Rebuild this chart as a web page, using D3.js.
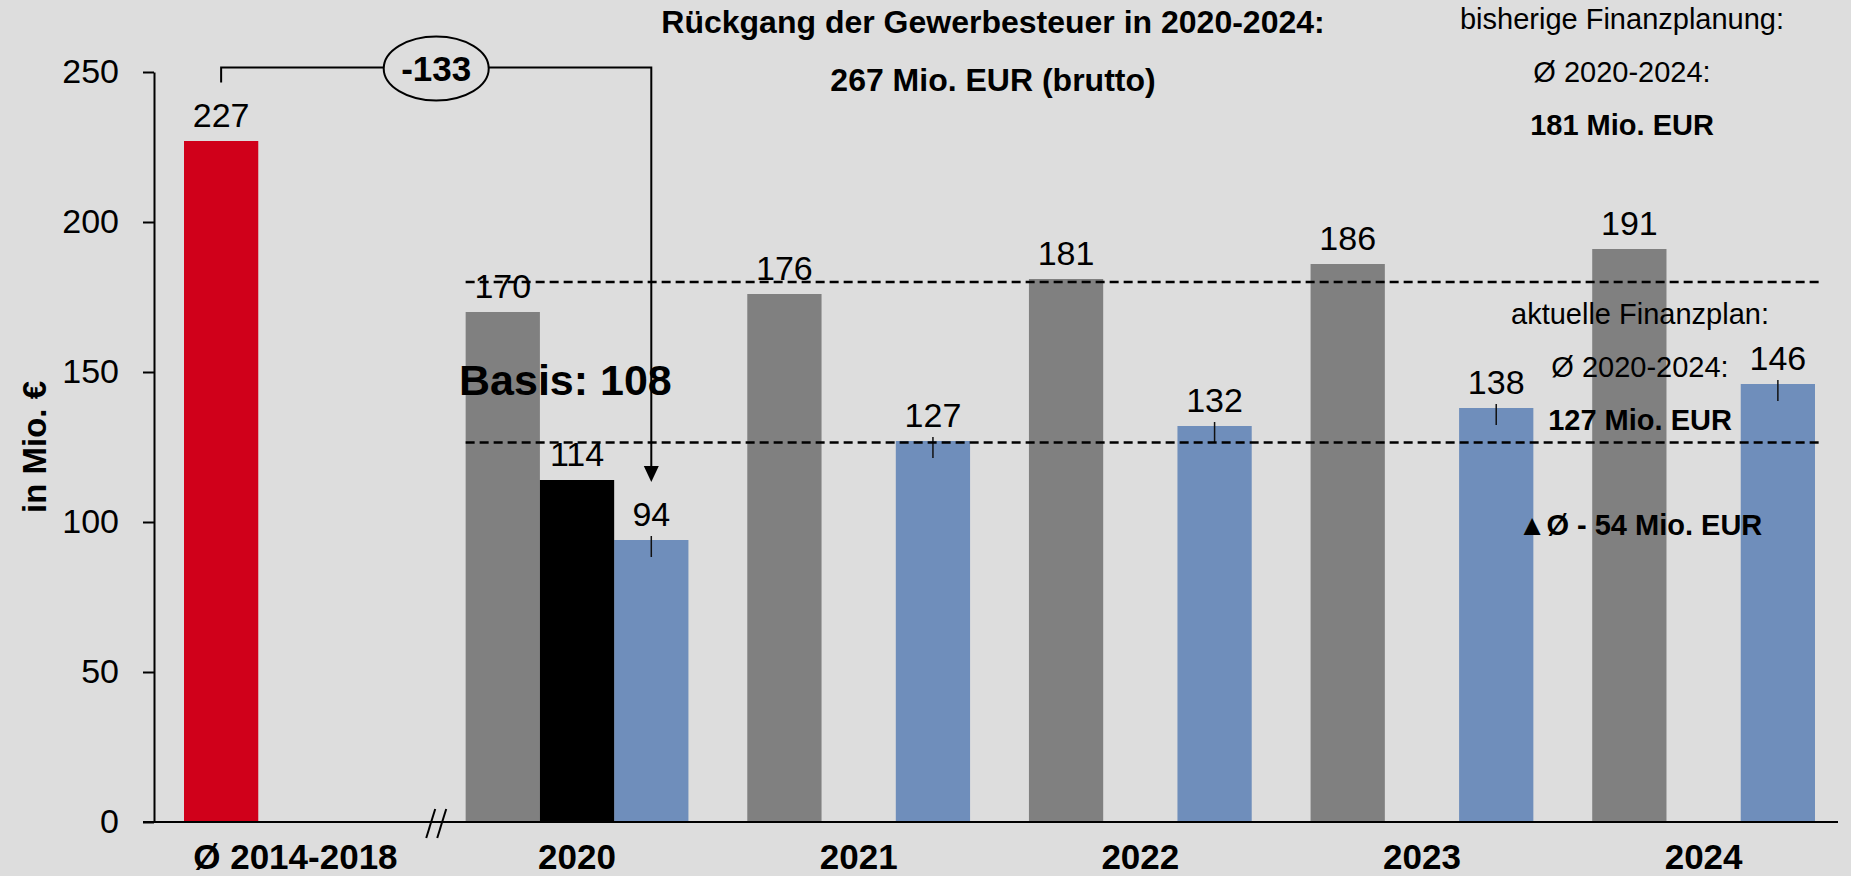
<!DOCTYPE html>
<meta charset="utf-8">
<style>

body {
  margin: 0;
  background: #dddddd;
}

text {
  font-family: "Liberation Sans", Arial, sans-serif;
  fill: #000;
}

.axis text {
  font-size: 34px;
}

.axis path,
.axis line {
  stroke: #000;
  stroke-width: 2px;
}

.label {
  font-size: 34px;
  text-anchor: middle;
}

.note {
  font-size: 29px;
  text-anchor: middle;
}

.bold {
  font-weight: bold;
}

</style>
<svg width="1851" height="876"></svg>
<script src="https://cdn.jsdelivr.net/npm/d3@7"></script>
<script>

var categories = ["Ø 2014-2018", "2020", "2021", "2022", "2023", "2024"],
    years = ["2020", "2021", "2022", "2023", "2024"];

var avgValue = [227],                          // Ø 2014-2018
    previousPlan = [170, 176, 181, 186, 191],  // bisherige Finanzplanung
    basis2020 = [114],                         // Basis 2020
    currentPlan = [94, 127, 132, 138, 146];    // aktuelle Finanzplanung

var yTicks = [0, 50, 100, 150, 200, 250];

// dashed average lines (old plan, current plan)
var avgLines = [180, 126.5];

var titleLines = ["Rückgang der Gewerbesteuer in 2020-2024:", "267 Mio. EUR (brutto)"],
    oldPlanLines = ["bisherige Finanzplanung:", "Ø 2020-2024:", "181 Mio. EUR"],
    newPlanLines = ["aktuelle Finanzplan:", "Ø 2020-2024:", "127 Mio. EUR"],
    diffLine = "▲Ø - 54 Mio. EUR",
    basisLine = "Basis: 108";

var svg = d3.select("svg"),
    width = +svg.attr("width"),
    height = +svg.attr("height");

svg.append("rect")
    .attr("width", width)
    .attr("height", height)
    .attr("fill", "#dddddd");

var axisX = 154;

var x0 = d3.scaleBand()
    .domain(categories)
    .range([184, 1815])
    .paddingInner(0.209)
    .paddingOuter(0);

var x1 = d3.scaleBand()
    .domain(["a", "b", "c"])
    .range([0, x0.bandwidth()]);

var y = d3.scaleLinear()
    .domain([0, 250])
    .range([822, 72]);

var colors = { avg: "#d0001a", old: "#808080", basis: "#000000", cur: "#6f8ebb" };

var bars = [];
bars.push({ cat: categories[0], slot: "a", value: avgValue[0], type: "avg" });
years.forEach(function(yr, i) {
  bars.push({ cat: yr, slot: "a", value: previousPlan[i], type: "old" });
  bars.push({ cat: yr, slot: "c", value: currentPlan[i], type: "cur" });
});
bars.push({ cat: years[0], slot: "b", value: basis2020[0], type: "basis" });

function cx(d) { return x0(d.cat) + x1(d.slot) + x1.bandwidth() / 2; }

svg.append("g")
  .selectAll("rect")
  .data(bars)
  .enter().append("rect")
    .attr("x", function(d) { return x0(d.cat) + x1(d.slot); })
    .attr("y", function(d) { return y(d.value); })
    .attr("width", x1.bandwidth())
    .attr("height", function(d) { return y(0) - y(d.value); })
    .attr("fill", function(d) { return colors[d.type]; });

// little markers on the current plan bars
svg.append("g")
  .selectAll("line")
  .data(bars.filter(function(d) { return d.type === "cur"; }))
  .enter().append("line")
    .attr("x1", cx)
    .attr("x2", cx)
    .attr("y1", function(d) { return y(d.value) - 4; })
    .attr("y2", function(d) { return y(d.value) + 17; })
    .attr("stroke", "#111")
    .attr("stroke-width", 1.5);

svg.append("g")
  .selectAll("text")
  .data(bars)
  .enter().append("text")
    .attr("class", "label")
    .attr("x", cx)
    .attr("y", function(d) { return y(d.value) - 14; })
    .text(function(d) { return d.value; });

// dashed average lines
var lineStart = x0(years[0]),
    lineEnd = x0(years[years.length - 1]) + x0.bandwidth() + 5;

svg.append("g")
  .selectAll("line")
  .data(avgLines)
  .enter().append("line")
    .attr("x1", lineStart)
    .attr("x2", lineEnd)
    .attr("y1", function(d) { return y(d); })
    .attr("y2", function(d) { return y(d); })
    .attr("stroke", "#000")
    .attr("stroke-width", 2.5)
    .attr("stroke-dasharray", "9,5");

// y axis
var yAxis = svg.append("g")
    .attr("class", "axis")
    .attr("transform", "translate(" + axisX + ",0)")
    .call(d3.axisLeft(y).tickValues(yTicks).tickSize(11).tickSizeOuter(0).tickPadding(24));
yAxis.selectAll("text").attr("fill", "#000").style("font-family", "'Liberation Sans', Arial, sans-serif");

svg.append("text")
    .attr("class", "bold")
    .attr("transform", "translate(46," + y(125) + ") rotate(-90)")
    .attr("text-anchor", "middle")
    .style("font-size", "33px")
    .text("in Mio. €");

// x axis
svg.append("line")
    .attr("x1", axisX - 11)
    .attr("x2", 1838)
    .attr("y1", y(0))
    .attr("y2", y(0))
    .attr("stroke", "#000")
    .attr("stroke-width", 2);

var xAxis = svg.append("g")
    .attr("class", "axis")
    .attr("transform", "translate(0," + y(0) + ")")
    .call(d3.axisBottom(x0).tickSize(0).tickPadding(22));
xAxis.select(".domain").remove();
xAxis.selectAll("text")
    .attr("fill", "#000")
    .style("font-family", "'Liberation Sans', Arial, sans-serif")
    .style("font-size", "35px")
    .style("font-weight", "bold");

// axis break
var breakX = (x0(categories[0]) + x0.bandwidth() + x0(categories[1])) / 2;
svg.append("g")
  .selectAll("line")
  .data([-5.5, 5.5])
  .enter().append("line")
    .attr("x1", function(d) { return breakX + d - 4.5; })
    .attr("x2", function(d) { return breakX + d + 4.5; })
    .attr("y1", y(0) + 16)
    .attr("y2", y(0) - 13)
    .attr("stroke", "#000")
    .attr("stroke-width", 2);

// bracket from the average to 2020
var from = bars[0],
    to = bars[2],
    fx = cx(from),
    tx = cx(to),
    by = y(251.5),
    tipY = y(to.value) - 58;

svg.append("path")
    .attr("d", "M" + fx + "," + (by + 15) + "V" + by + "H" + tx + "V" + (tipY - 15))
    .attr("fill", "none")
    .attr("stroke", "#000")
    .attr("stroke-width", 2);

svg.append("path")
    .attr("d", "M" + (tx - 7.5) + "," + (tipY - 16) + "L" + (tx + 7.5) + "," + (tipY - 16) + "L" + tx + "," + tipY + "Z")
    .attr("fill", "#000");

var mx = (fx + tx) / 2;
svg.append("ellipse")
    .attr("cx", mx)
    .attr("cy", by + 1)
    .attr("rx", 52.5)
    .attr("ry", 32)
    .attr("fill", "#dddddd")
    .attr("stroke", "#000")
    .attr("stroke-width", 2);

svg.append("text")
    .attr("class", "label bold")
    .attr("x", mx)
    .attr("y", by + 13)
    .style("font-size", "35px")
    .text(to.value - from.value);

// text blocks
svg.append("text")
    .attr("class", "bold")
    .attr("x", 459)
    .attr("y", 395)
    .style("font-size", "43px")
    .text(basisLine);

svg.append("g")
  .selectAll("text")
  .data(titleLines)
  .enter().append("text")
    .attr("class", "note bold")
    .attr("x", 993)
    .attr("y", function(d, i) { return 33 + i * 58; })
    .style("font-size", "32px")
    .text(function(d) { return d; });

svg.append("g")
  .selectAll("text")
  .data(oldPlanLines)
  .enter().append("text")
    .attr("class", function(d, i) { return i === 2 ? "note bold" : "note"; })
    .attr("x", 1622)
    .attr("y", function(d, i) { return 29 + i * 53; })
    .text(function(d) { return d; });

svg.append("g")
  .selectAll("text")
  .data(newPlanLines.concat([diffLine]))
  .enter().append("text")
    .attr("class", function(d, i) { return i >= 2 ? "note bold" : "note"; })
    .attr("x", 1640)
    .attr("y", function(d, i) { return i < 3 ? 324 + i * 53 : 535; })
    .text(function(d) { return d; });

</script>
